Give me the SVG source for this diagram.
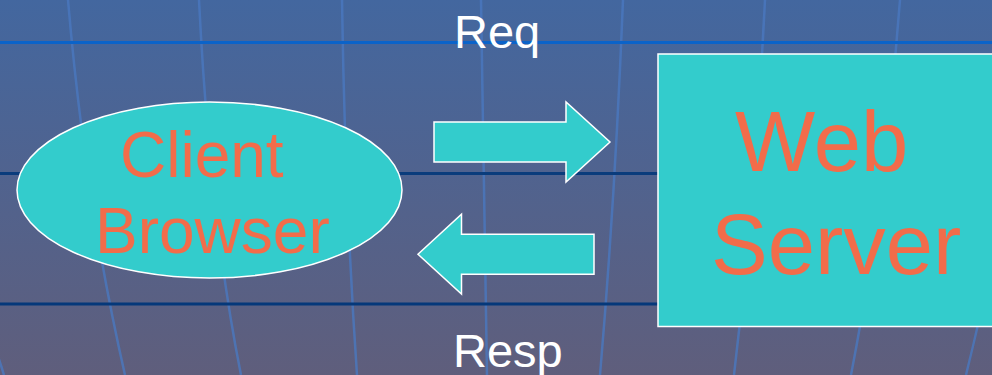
<svg xmlns="http://www.w3.org/2000/svg" width="992" height="375" viewBox="0 0 992 375">
<defs>
<linearGradient id="bg" x1="0" y1="0" x2="0" y2="1">
<stop offset="0" stop-color="#43679f"/>
<stop offset="1" stop-color="#5f5e7c"/>
</linearGradient>
<style>
.grid{fill:none;stroke:#4a78bf;stroke-width:2.5;opacity:0.8}
.hl{stroke-width:3}
.shape{fill:#33cccc;stroke:#ffffff;stroke-width:1.5}
.lbl{font-family:"Liberation Sans",Arial,sans-serif;fill:#f26c4a}
.cap{font-family:"Liberation Sans",Arial,sans-serif;fill:#ffffff;font-size:47px}
</style>
</defs>
<rect x="0" y="0" width="992" height="375" fill="url(#bg)"/>
<g id="background-lines">
<path class="grid" d="M68,0 Q85,200 125,375"/>
<path class="grid" d="M199,0 Q210,220 241,375"/>
<path class="grid" d="M342,0 Q345,200 357,375"/>
<path class="grid" d="M481,0 Q485,200 487,375"/>
<path class="grid" d="M623,0 Q615,200 600,375"/>
<path class="grid" d="M765,0 Q755,200 734,375"/>
<path class="grid" d="M900,0 Q885,200 851,375"/>
<path class="grid" d="M1030,0 Q1010,200 966,375"/>
<path class="grid" d="M-12,330 Q-2,355 4,375"/>
<line class="hl" x1="0" y1="42.5" x2="992" y2="42.5" stroke="#0b63c9"/>
<line class="hl" x1="0" y1="173.5" x2="992" y2="173.5" stroke="#0a3c7c"/>
<line class="hl" x1="0" y1="304" x2="992" y2="304" stroke="#05387a"/>
</g>
<g id="client-browser">
<ellipse class="shape" cx="209.5" cy="190" rx="192.5" ry="88"/>
<text class="lbl" font-size="64" x="120" y="177">Client</text>
<text class="lbl" font-size="64" x="95" y="253">Browser</text>
</g>
<g id="web-server">
<rect class="shape" x="658" y="54" width="340" height="272.5"/>
<text class="lbl" font-size="85" x="735" y="171">Web</text>
<text class="lbl" font-size="85" x="711" y="274">Server</text>
</g>
<g id="connectors">
<polygon class="shape" points="434,122 566,122 566,102 610,142 566,182 566,162 434,162"/>
<polygon class="shape" points="594,234.3 461.5,234.3 461.5,214.3 418,254.3 461.5,294 461.5,274.3 594,274.3"/>
<text class="cap" x="454" y="48">Req</text>
<text class="cap" x="453" y="366.5">Resp</text>
</g>
</svg>
